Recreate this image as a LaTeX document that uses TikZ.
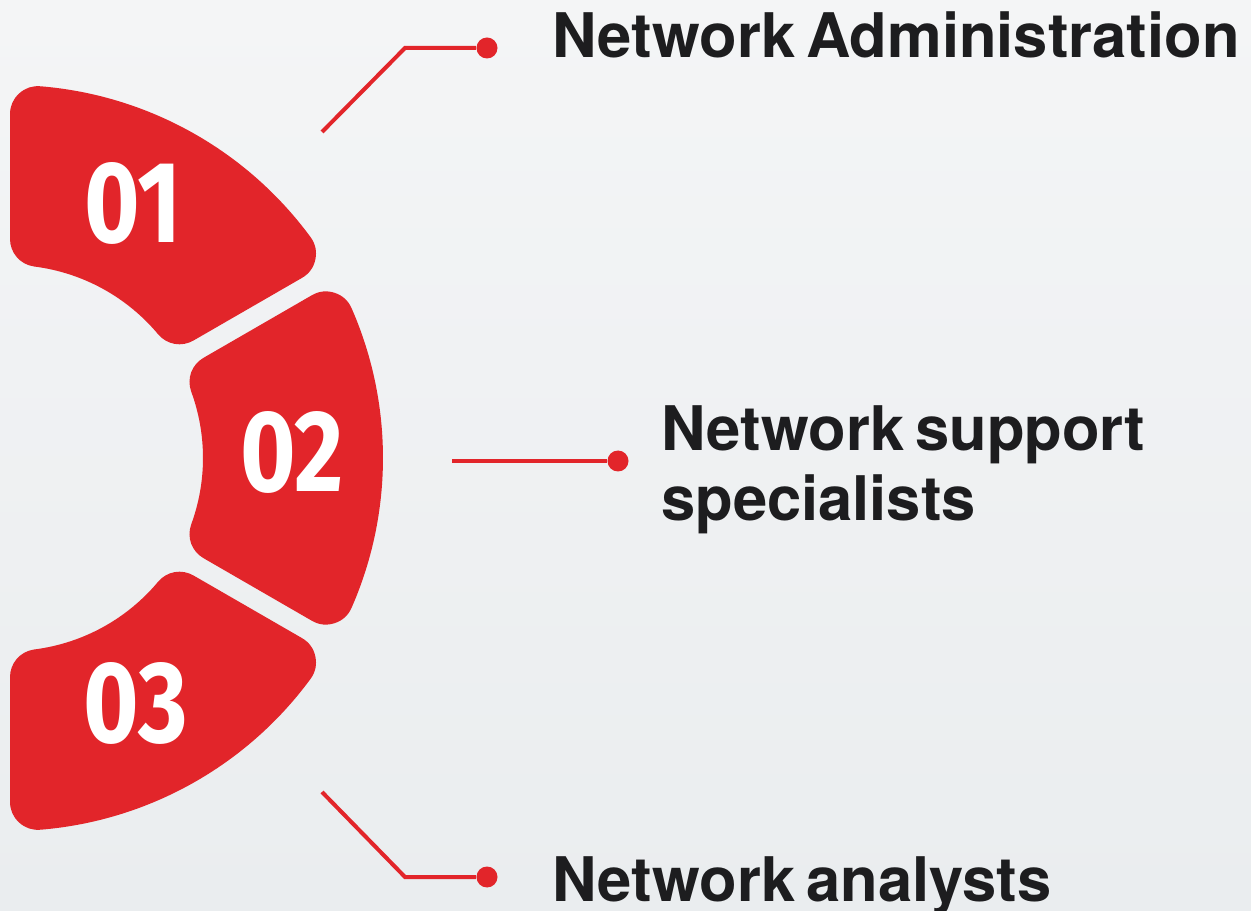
\documentclass[tikz,border=0pt]{standalone}
\usepackage{fontspec}
\setmainfont{TeX Gyre Heros}[WordSpace=0.65]
\newfontfamily\numfont{Fira Sans}[FakeStretch=0.82]
\usepackage{tikz}
\usetikzlibrary{positioning}
\definecolor{segred}{HTML}{E2252A}
\definecolor{inkdark}{HTML}{1D1D1F}
\definecolor{bgtop}{HTML}{F4F5F6}
\definecolor{bgbot}{HTML}{EAEDEF}

\begin{document}
\begin{tikzpicture}[
  x=0.02cm, y=0.02cm,
  seg/.style={fill=segred, draw=segred, line width=1.12cm, line join=round},
  num/.style={text=white, inner sep=0pt, font=\numfont\bfseries\fontsize{66}{66}\selectfont},
  link/.style={draw=segred, line width=0.08cm},
  dot/.style={circle, fill=segred, inner sep=0pt, minimum size=0.42cm},
  jobtext/.style={inner sep=0pt, align=left, text=inkdark, font=\bfseries\fontsize{35}{40}\selectfont}
]
  % Background
  \useasboundingbox (0,0) rectangle (1251,910);
  \shade[top color=bgtop, bottom color=bgbot] (0,0) rectangle (1251,910);

  % Ring segments
  \filldraw[seg, shift={(10,452)}] (36.32:345) arc[start angle=36.32, end angle=85.34, radius=345]
    -- (82.72:221) arc[start angle=82.72, end angle=39.90, radius=221] -- cycle;
  \filldraw[seg, shift={(10,452)}] (-23.68:345) arc[start angle=-23.68, end angle=23.68, radius=345]
    -- (20.10:221) arc[start angle=20.10, end angle=-20.10, radius=221] -- cycle;
  \filldraw[seg, shift={(10,452)}] (-85.34:345) arc[start angle=-85.34, end angle=-36.32, radius=345]
    -- (-39.90:221) arc[start angle=-39.90, end angle=-82.72, radius=221] -- cycle;

  % Numbers
  \node[num] (n1) at (133,707) {01};
  \node[num] (n2) at (292,458) {02};
  \node[num] (n3) at (136,207) {03};

  % Connectors
  \coordinate (s1) at (322,778);
  \coordinate (k1) at (405,862);
  \node[dot] (d1) at (487,862) {};
  \draw[link] (s1) -- (k1) -- (d1);

  \coordinate (s2) at (452,449);
  \node[dot] (d2) at (618,449) {};
  \draw[link] (s2) -- (d2);

  \coordinate (s3) at (322,118);
  \coordinate (k3) at (405,33);
  \node[dot] (d3) at (487,33) {};
  \draw[link] (s3) -- (k3) -- (d3);

  % Labels
  \node[jobtext, anchor=base west] (t1) at (552,852) {Network Administration};
  \node[jobtext, anchor=north west] (t2) at (661,505) {Network support\\specialists};
  \node[jobtext, anchor=base west] (t3) at (552,9) {Network analysts};
\end{tikzpicture}
\end{document}
